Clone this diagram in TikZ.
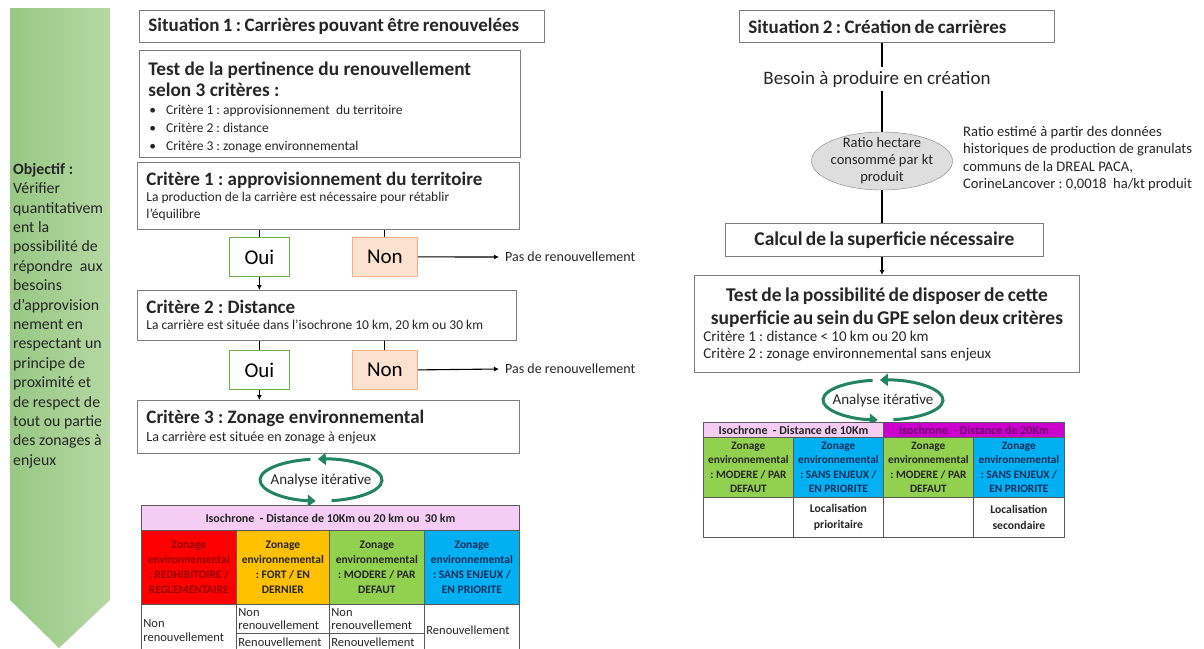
\documentclass[tikz,border=0pt]{standalone}
\usepackage{fontspec}
\setmainfont{Carlito}
\usetikzlibrary{arrows.meta, shapes.geometric, calc}
\frenchspacing
\definecolor{texte}{RGB}{38,38,38}
\definecolor{bordgris}{RGB}{125,125,125}
\definecolor{cellgris}{RGB}{90,90,90}
\definecolor{flecheg}{RGB}{152,200,132}
\definecolor{fleched}{RGB}{182,216,164}
\definecolor{ouibord}{RGB}{112,173,71}
\definecolor{nonfond}{RGB}{251,226,208}
\definecolor{nonbord}{RGB}{244,177,131}
\definecolor{boucleverte}{RGB}{34,132,98}
\definecolor{ellfond}{RGB}{222,222,222}
\definecolor{rose}{RGB}{244,204,244}
\definecolor{magenta2}{RGB}{204,0,204}
\definecolor{rouge}{RGB}{255,0,0}
\definecolor{orange2}{RGB}{255,192,0}
\definecolor{vert2}{RGB}{146,208,80}
\definecolor{bleu2}{RGB}{0,176,240}
\definecolor{rougefonce}{RGB}{150,0,0}
\definecolor{bleufonce}{RGB}{20,45,95}
\definecolor{violetfonce}{RGB}{110,0,110}

\newcommand{\fttitre}{\fontsize{19}{22}\selectfont\bfseries}
\newcommand{\ftpetit}{\fontsize{13.5}{16.5}\selectfont}

\tikzset{
  boite/.style={draw=bordgris, line width=0.9pt, fill=white, anchor=north west, inner xsep=9pt, inner ysep=3pt, text=texte},
  choix/.style={draw=ouibord, line width=0.8pt, fill=white, anchor=north west, minimum width=60pt, minimum height=39pt, text=black, font=\fontsize{21}{24}\selectfont},
  refus/.style={choix, draw=nonbord, fill=nonfond, minimum width=65pt},
  lien/.style={line width=1.1pt},
  fleche/.style={lien, -{Latex[length=5pt,width=5pt]}},
  boucle/.style={line width=3pt, draw=boucleverte, -{Triangle[length=8pt,width=12pt]}},
  cellule/.style={draw=cellgris, line width=0.8pt, anchor=north west, inner sep=1pt, align=center, font=\fontsize{11.5}{14.8}\selectfont\bfseries},
  case/.style={cellule, align=flush left, text=texte, font=\fontsize{12.5}{13.5}\selectfont},
}

\begin{document}
\begin{tikzpicture}[x=1pt, y=-1pt]
  \useasboundingbox (0,0) rectangle (1204,648);
  \clip (0,0) rectangle (1204,648);
  \fill[white] (0,0) rectangle (1204,648);

  % Objectif
  \shade[left color=flecheg, right color=fleched] (10,8) -- (110,8) -- (110,600) -- (59,648) -- (10,600) -- cycle;
  \node[anchor=north west, inner sep=0pt, text width=110pt, align=flush left, text=texte, font=\fontsize{15.8}{19.4}\selectfont] (objectif) at (13,163)
    {\textbf{Objectif :}\\Vérifier\\quantitativem\\ent la\\possibilité de\\répondre~ aux\\besoins\\d’approvision\\nement en\\respectant un\\principe de\\proximité et\\de respect de\\tout ou partie\\des zonages à\\enjeux};

  % Situation 1
  \node[boite, minimum width=405pt, minimum height=32pt, text width=387pt] (sit1) at (139,10)
    {\fttitre Situation 1 : Carrières pouvant être renouvelées};
  \node[boite, minimum width=381pt, minimum height=107pt, text width=363pt, align=flush left] (test1) at (139,50)
    {{\fontsize{19.3}{21}\selectfont\bfseries Test de la pertinence du renouvellement\\selon 3 critères :\par}
     {\fontsize{13.5}{18}\selectfont\hspace*{1pt}\textbullet\hspace{10pt}Critère 1 : approvisionnement~ du territoire\\
      \hspace*{1pt}\textbullet\hspace{10pt}Critère 2 : distance\\
      \hspace*{1pt}\textbullet\hspace{10pt}Critère 3 : zonage environnemental\par}\vspace{-6pt}};

  \node[boite, minimum width=382pt, minimum height=67pt, text width=364pt, align=flush left] (crit1) at (137,162)
    {{\fttitre Critère 1 : approvisionnement du territoire\par}
     {\ftpetit La production de la carrière est nécessaire pour rétablir\\l’équilibre\par}};
  \node[choix] (oui1) at (229,237) {Oui};
  \node[refus] (non1) at (352,237) {Non};
  \node[anchor=west, inner xsep=6pt, text=texte, font=\fontsize{14}{16}\selectfont] (pas1) at (499,257) {Pas de renouvellement};

  \node[boite, minimum width=379pt, minimum height=50pt, text width=361pt, align=flush left] (crit2) at (137,290)
    {{\fttitre Critère 2 : Distance\par}
     {\ftpetit La carrière est située dans l’isochrone 10 km, 20 km ou 30 km\par}};
  \node[choix] (oui2) at (229,350) {Oui};
  \node[refus] (non2) at (352,350) {Non};
  \node[anchor=west, inner xsep=6pt, text=texte, font=\fontsize{14}{16}\selectfont] (pas2) at (499,369) {Pas de renouvellement};

  \node[boite, minimum width=382pt, minimum height=53pt, text width=364pt, align=flush left] (crit3) at (137,400)
    {{\fttitre Critère 3 : Zonage environnemental\par}
     {\fontsize{14}{18}\selectfont La carrière est située en zonage à enjeux\par}};

  \draw[lien] (oui1.north |- crit1.south) -- (oui1.north);
  \draw[lien] (non1.north |- crit1.south) -- (non1.north);
  \draw[fleche] (oui1.south) -- (oui1.south |- crit2.north);
  \draw[fleche] (non1.east) -- (pas1.west);
  \draw[lien] (oui2.north |- crit2.south) -- (oui2.north);
  \draw[lien] (non2.north |- crit2.south) -- (non2.north);
  \draw[fleche] (oui2.south) -- (oui2.south |- crit3.north);
  \draw[fleche] (non2.east) -- (pas2.west);

  % Analyse iterative (gauche)
  \coordinate (lc1) at (321,480);
  \draw[boucle] ([shift={(280:61pt and 21pt)}]lc1) arc[start angle=280, end angle=453, x radius=61pt, y radius=21pt];
  \draw[boucle] ([shift={(100:61pt and 21pt)}]lc1) arc[start angle=100, end angle=265, x radius=61pt, y radius=21pt];
  \node[text=texte, font=\fontsize{15}{17}\selectfont] (analyse1) at (lc1) {Analyse itérative};

  % Tableau 1
  \node[cellule, fill=rose, minimum width=378pt, minimum height=25pt, font=\fontsize{12}{13}\selectfont\bfseries, text=texte] (iso1) at (141,505)
    {Isochrone~ - Distance de 10Km ou 20 km ou~ 30 km};
  \node[cellule, fill=rouge, text=rougefonce, minimum width=95pt, minimum height=74pt] (z1r) at (141,530)
    {Zonage\\environnemental\\: REDHIBITOIRE /\\REGLEMENTAIRE};
  \node[cellule, fill=orange2, text=black!85, minimum width=93pt, minimum height=74pt] (z1o) at (236,530)
    {Zonage\\environnemental\\: FORT / EN\\DERNIER};
  \node[cellule, fill=vert2, text=black!85, minimum width=95pt, minimum height=74pt] (z1v) at (329,530)
    {Zonage\\environnemental\\: MODERE / PAR\\DEFAUT};
  \node[cellule, fill=bleu2, text=bleufonce, minimum width=95pt, minimum height=74pt] (z1b) at (424,530)
    {Zonage\\environnemental\\: SANS ENJEUX /\\EN PRIORITE};
  \node[case, minimum width=95pt, minimum height=52pt, text width=91pt] (r1) at (141,604) {Non\\renouvellement};
  \node[case, minimum width=93pt, minimum height=29pt, text width=89pt] (r2a) at (236,604) {Non\\renouvellement};
  \node[case, minimum width=93pt, minimum height=17pt, text width=89pt] (r2b) at (236,633) {Renouvellement};
  \node[case, minimum width=95pt, minimum height=29pt, text width=91pt] (r3a) at (329,604) {Non\\renouvellement};
  \node[case, minimum width=95pt, minimum height=17pt, text width=91pt] (r3b) at (329,633) {Renouvellement};
  \node[case, minimum width=95pt, minimum height=52pt, text width=91pt] (r4) at (424,604) {Renouvellement};

  % Situation 2
  \node[boite, minimum width=315pt, minimum height=32pt, text width=297pt] (sit2) at (739,10)
    {\fttitre Situation 2 : Création de carrières};
  \node[inner ysep=4pt, text=texte, font=\fontsize{19}{22}\selectfont] (besoin) at (877,79) {Besoin à produire en création};
  \node[ellipse, draw=gray, fill=ellfond, minimum width=141pt, minimum height=58pt, inner xsep=-14pt, inner ysep=-8pt, align=center, text=texte,
        font=\fontsize{14.5}{17}\selectfont] (ratio) at (882,161) {Ratio hectare\\consommé par kt\\produit};
  \node[anchor=north west, inner sep=0pt, align=flush left, text=texte, font=\fontsize{14.6}{17.5}\selectfont] (note) at (963,126)
    {Ratio estimé à partir des données\\historiques de production de granulats\\communs de la DREAL PACA,\\CorineLancover : 0,0018~ ha/kt produit};
  \node[boite, minimum width=318pt, minimum height=33pt, text width=300pt, align=center] (calcul) at (725,223)
    {\fontsize{19.5}{22}\selectfont\bfseries Calcul de la superficie nécessaire};
  \node[boite, minimum width=385pt, minimum height=97pt, text width=367pt] (test2) at (694,275)
    {{\centering\fontsize{19.5}{23}\selectfont\bfseries Test de la possibilité de disposer de cette\\superficie au sein du GPE selon deux critères\par}
     {\fontsize{15}{17}\selectfont Critère 1 : distance < 10 km ou 20 km\\Critère 2 : zonage environnemental sans enjeux\par}};

  \draw[lien] (sit2.south -| ratio) -- (besoin.north -| ratio);
  \draw[lien] (besoin.south -| ratio) -- (ratio.north);
  \draw[lien] (ratio.south) -- (ratio.south |- calcul.north);
  \draw[fleche] (calcul.south -| ratio) -- (test2.north -| ratio);

  % Analyse iterative (droite)
  \coordinate (lc2) at (883,400);
  \draw[boucle] ([shift={(280:60pt and 20pt)}]lc2) arc[start angle=280, end angle=453, x radius=60pt, y radius=20pt];
  \draw[boucle] ([shift={(100:60pt and 20pt)}]lc2) arc[start angle=100, end angle=265, x radius=60pt, y radius=20pt];
  \node[text=texte, font=\fontsize{15}{17}\selectfont] (analyse2) at (lc2) {Analyse itérative};

  % Tableau 2
  \node[cellule, fill=rose, text=texte, minimum width=180pt, minimum height=15pt, font=\fontsize{12}{12}\selectfont\bfseries] (iso2a) at (703,422)
    {Isochrone~ - Distance de 10Km};
  \node[cellule, fill=magenta2, text=violetfonce, minimum width=181pt, minimum height=15pt, font=\fontsize{12}{12}\selectfont\bfseries] (iso2b) at (883,422)
    {Isochrone~ - Distance de 20Km};
  \node[cellule, fill=vert2, text=black!85, minimum width=90pt, minimum height=60pt, font=\fontsize{11.3}{14.5}\selectfont\bfseries] (z2v1) at (703,437)
    {Zonage\\environnemental\\: MODERE / PAR\\DEFAUT};
  \node[cellule, fill=bleu2, text=bleufonce, minimum width=90pt, minimum height=60pt, font=\fontsize{11.3}{14.5}\selectfont\bfseries] (z2b1) at (793,437)
    {Zonage\\environnemental\\: SANS ENJEUX /\\EN PRIORITE};
  \node[cellule, fill=vert2, text=black!85, minimum width=90pt, minimum height=60pt, font=\fontsize{11.3}{14.5}\selectfont\bfseries] (z2v2) at (883,437)
    {Zonage\\environnemental\\: MODERE / PAR\\DEFAUT};
  \node[cellule, fill=bleu2, text=bleufonce, minimum width=91pt, minimum height=60pt, font=\fontsize{11.3}{14.5}\selectfont\bfseries] (z2b2) at (973,437)
    {Zonage\\environnemental\\: SANS ENJEUX /\\EN PRIORITE};
  \node[cellule, minimum width=90pt, minimum height=40pt] (l1) at (703,497) {};
  \node[cellule, text=texte, minimum width=90pt, minimum height=40pt, font=\fontsize{11.7}{16}\selectfont\bfseries] (l2) at (793,497) {Localisation\\prioritaire};
  \node[cellule, minimum width=90pt, minimum height=40pt] (l3) at (883,497) {};
  \node[cellule, text=texte, minimum width=91pt, minimum height=40pt, font=\fontsize{11.7}{16}\selectfont\bfseries] (l4) at (973,497) {Localisation\\secondaire};
\end{tikzpicture}
\end{document}
